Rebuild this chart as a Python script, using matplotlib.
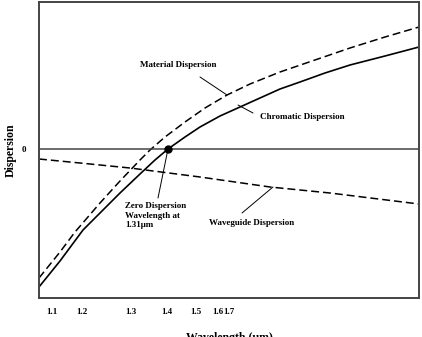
import matplotlib
matplotlib.use("Agg")
import matplotlib.pyplot as plt

# Curves (arbitrary chart units: x across the axis, y relative to zero dispersion)
chrom_x = [0, 21, 44, 61, 81, 101, 116, 129, 146, 161, 181, 201, 221, 241, 261, 286, 311, 346, 380]
chrom_y = [-138, -112, -81, -64, -44, -25, -11, 0, 12, 22, 33, 42, 51, 60, 67, 76, 84, 93, 102]
mat_x = [0, 21, 36, 61, 81, 101, 111, 126, 146, 166, 188, 211, 241, 276, 311, 346, 380]
mat_y = [-129, -103, -83, -54, -32, -11, -1, 12, 27, 41, 54, 65, 77, 89, 101, 112, 122]
wg_x = [0, 41, 91, 161, 231, 291, 380]
wg_y = [-10, -14, -19, -28, -38, -44, -55]

zero_x = 129
zero_y = 0

xtick_pos = [12.7, 42.7, 92, 127.7, 157, 178.7, 190.3]
xtick_labels = ["1.1", "1.2", "1.3", "1.4", "1.5", "1.6", "1.7"]
ytick_pos = [0]
ytick_labels = ["0"]

plt.rcParams['font.family'] = ['Liberation Serif', 'DejaVu Serif']
plt.rcParams['font.weight'] = 'bold'

fig = plt.figure(figsize=(4.22, 3.37), dpi=100)
ax = fig.add_axes([39/422, 39/337, 380/422, 296/337])

ax.plot(chrom_x, chrom_y, color='black', lw=1.2)
ax.plot(mat_x, mat_y, color='black', lw=1.1, dashes=(5.2, 2.6))
ax.plot(wg_x, wg_y, color='black', lw=1.1, dashes=(5.2, 2.6))
ax.axhline(0, color='#444444', lw=1.1)
ax.plot([zero_x], [zero_y], 'o', color='black', ms=5)

ax.set_xlim(0, 380)
ax.set_ylim(-149, 147)

ax.set_xticks(xtick_pos)
ax.set_xticklabels(xtick_labels, fontsize=6.5, fontweight='bold')
ax.set_yticks(ytick_pos)
ax.set_yticklabels(ytick_labels, fontsize=6.5, fontweight='bold')
ax.tick_params(length=0, axis='x', pad=7)
ax.tick_params(length=0, axis='y', pad=9)

for s in ax.spines.values():
    s.set_color('#444444')
    s.set_linewidth(1.4)

ax.set_xlabel("Wavelength (μm)", fontsize=8.5, fontweight='bold', labelpad=12)
ax.set_ylabel("Dispersion", fontsize=8.5, fontweight='bold', labelpad=4)

tk = dict(fontsize=6.5, fontweight='bold')
lk = dict(arrowstyle='-', color='black', lw=0.7, shrinkA=0, shrinkB=0)

ax.annotate("", xy=(188, 54), xytext=(161, 72), arrowprops=lk)
ax.text(139, 84, "Material Dispersion", ha='center', va='center', **tk)

ax.annotate("", xy=(214, 36), xytext=(199, 44), arrowprops=lk)
ax.text(263, 32, "Chromatic Dispersion", ha='center', va='center', **tk)

ax.annotate("", xy=(zero_x, zero_y), xytext=(119, -49), arrowprops=lk)
ax.text(86, -53, "Zero Dispersion\nWavelength at\n1.31μm", ha='left', va='top',
        linespacing=1.25, **tk)

ax.annotate("", xy=(234, -38), xytext=(203, -64), arrowprops=lk)
ax.text(213, -74, "Waveguide Dispersion", ha='center', va='center', **tk)

fig.savefig("out.png", dpi=100)
